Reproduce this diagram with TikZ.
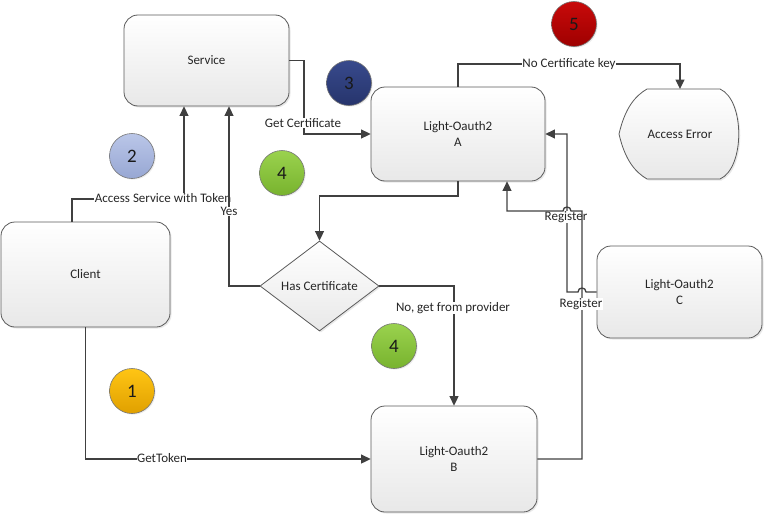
\documentclass[tikz,border=0pt]{standalone}
\usepackage{fontspec}
\setmainfont{Carlito}
\usetikzlibrary{arrows.meta,shapes.geometric,shadows,calc}
\definecolor{linec}{HTML}{404040}
\definecolor{borderc}{HTML}{5A5A5A}
\definecolor{oraT}{HTML}{FFC514}
\definecolor{oraB}{HTML}{E0A000}
\definecolor{bluT}{HTML}{BAC6E8}
\definecolor{bluB}{HTML}{97A7D3}
\definecolor{navT}{HTML}{384A8C}
\definecolor{navB}{HTML}{26346C}
\definecolor{grnT}{HTML}{9AD24E}
\definecolor{grnB}{HTML}{78B32E}
\definecolor{redT}{HTML}{C80A0A}
\definecolor{redB}{HTML}{9E0000}
\newcommand\mylbl{\fontsize{13}{16}\selectfont}
\newcommand\mynum{\fontsize{19}{20}\selectfont}
\tikzset{
  shade/.style={top color=white, bottom color=black!9,
    drop shadow={shadow xshift=1.5pt, shadow yshift=-1.5pt, opacity=0.18}},
  box/.style={rectangle, rounded corners=14pt, draw=borderc, line width=0.8pt,
    shade, align=center, font=\mylbl, text=black!85, inner sep=0pt},
  dia/.style={diamond, aspect=1.32, draw=borderc, line width=0.8pt, shade,
    font=\mylbl, text=black!85, inner sep=0pt},
  conn/.style={draw=linec, line width=1.3pt},
  arr/.style={conn, -{Triangle[length=9.5pt,width=9pt]}},
  lab/.style={fill=white, inner sep=0.5pt, font=\mylbl, text=black!85},
  num/.style={circle, minimum size=45pt, inner sep=0pt, draw=black!55,
    line width=0.6pt, font=\mynum, text=black!90,
    drop shadow={shadow xshift=1.2pt, shadow yshift=-1.2pt, opacity=0.15}}
}
\begin{document}
\begin{tikzpicture}[x=1pt,y=-1pt]
\useasboundingbox (0,0) rectangle (765,514);

% boxes
\node[box, minimum width=165pt, minimum height=91pt] (service) at (206.5,60.5) {Service};
\node[box, minimum width=169pt, minimum height=105pt] (client) at (85.5,274.5) {Client};
\node[box, minimum width=174pt, minimum height=94pt] (lightA) at (458,134) {Light-Oauth2\\A};
\node[box, minimum width=166pt, minimum height=106pt] (lightB) at (454,459) {Light-Oauth2\\B};
\node[box, minimum width=165pt, minimum height=92pt] (lightC) at (679.5,292) {Light-Oauth2\\C};
\node[dia, minimum width=119pt, minimum height=90pt] (dia) at (319.5,286) {Has Certificate};

% access error shape
\path[draw=borderc, line width=0.8pt, shade]
  (647,89) -- (720,89) .. controls (745,100) and (745,168) .. (720,179)
  -- (647,179) .. controls (635,172) and (625,160) .. (619,134)
  .. controls (625,108) and (635,96) .. (647,89) -- cycle;
\node[font=\mylbl, text=black!85] (err) at (680,134) {Access Error};
\coordinate (errtop) at (680,89);

% number circles
\node[num, top color=oraT, bottom color=oraB] (n1) at (132,391) {1};
\node[num, top color=bluT, bottom color=bluB] (n2) at (132,156) {2};
\node[num, top color=navT, bottom color=navB] (n3) at (349,83) {3};
\node[num, top color=grnT, bottom color=grnB] (n4a) at (282,173) {4};
\node[num, top color=grnT, bottom color=grnB] (n4b) at (394,346) {4};
\node[num, top color=redT, bottom color=redB] (n5) at (574,24) {5};

% helper coordinates
\coordinate (ax1) at (72,199);
\coordinate (ax2) at (184,0);
\coordinate (yx) at (229,0);
\coordinate (gx) at (304,0);
\coordinate (hy) at (0,196);
\coordinate (ky) at (0,64);
\coordinate (cx) at (567,0);
\coordinate (bx) at (582,0);
\coordinate (ry) at (0,211);
\coordinate (axx) at (507,0);

% client -> service
\draw[arr] (client.north -| ax1) -- (ax1) -| (service.south -| ax2);
\node[lab] (labAccess) at (163,198.5) {Access Service with Token};

% has certificate yes -> service
\draw[arr] (dia.west) -| (service.south -| yx);
\node[lab] (labYes) at (229,211.5) {Yes};

% service -> light A
\draw[arr] (service.east) -| (gx |- lightA.west) -- (lightA.west);
\node[lab] (labGet) at (303,123) {Get Certificate};

% light A -> has certificate
\draw[arr] (lightA.south) -- (lightA.south |- hy) -| (dia.north);

% has certificate no -> light B
\draw[arr] (dia.east) -| (lightB.north);
\node[lab] (labNo) at (453,308) {No, get from provider};

% client -> light B
\draw[arr] (client.south) |- (lightB.west);
\node[lab] (labTok) at (162,458) {GetToken};

% light A -> access error
\draw[arr] (lightA.north) -- (lightA.north |- ky) -| (errtop);
\node[lab] (labNoC) at (569,64) {No Certificate key};

% light C -> light A (register)
\draw[arr] (lightC.west)
  -- ($(bx |- lightC.west)+(4,0)$)
  .. controls ($(bx |- lightC.west)+(4,-5.3)$) and ($(bx |- lightC.west)+(-4,-5.3)$) ..
  ($(bx |- lightC.west)+(-4,0)$)
  -- (cx |- lightC.west) -- (cx |- lightA.east) -- (lightA.east);
\node[lab] (labReg1) at (566,217) {Register};

% light B -> light A (register)
\draw[arr] (lightB.east) -| (bx |- ry)
  -- ($(cx |- ry)+(4,0)$)
  .. controls ($(cx |- ry)+(4,-5.3)$) and ($(cx |- ry)+(-4,-5.3)$) ..
  ($(cx |- ry)+(-4,0)$)
  -- (axx |- ry) -- (lightA.south -| axx);
\node[lab] (labReg2) at (581,304) {Register};
\end{tikzpicture}
\end{document}
